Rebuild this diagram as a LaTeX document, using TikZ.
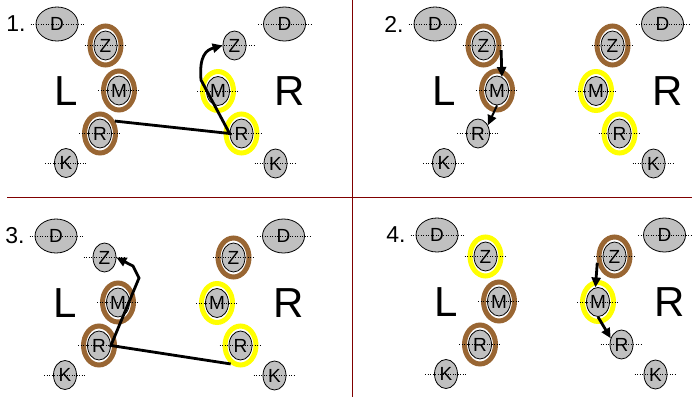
\documentclass[tikz,border=0pt]{standalone}
\usepackage{fontspec}
\setmainfont{Liberation Sans}
\usetikzlibrary{shapes.geometric,arrows.meta}
\definecolor{ballgray}{RGB}{192,192,192}
\definecolor{ringbrown}{RGB}{153,102,51}
\definecolor{ringyellow}{RGB}{255,255,0}
\definecolor{divred}{RGB}{128,0,0}

\begin{document}
\begin{tikzpicture}[x=1pt, y=-1pt,
    ball/.style = {draw, ellipse, fill=ballgray, line width=0.8pt, inner sep=0pt, minimum width=23pt, minimum height=29pt, font=\fontsize{19}{19}\selectfont},
    big/.style = {ball, minimum width=42pt, minimum height=34pt},
    ring/.style = {draw=#1, ellipse, line width=5pt, minimum width=31pt, minimum height=39pt},
    side/.style = {font=\fontsize{42}{42}\selectfont},
    num/.style = {font=\fontsize{23}{23}\selectfont},
    guide/.style = {dash pattern=on 1pt off 1.5pt, line width=0.7pt},
    move/.style = {line width=2.8pt, -{Triangle[length=10pt,width=9pt]}}]
    \useasboundingbox (0,0) rectangle (700,405);
    % panel dividers
    \draw[divred, line width=1pt] (7,197) -- (692,197);
    \draw[divred, line width=1pt] (352.5,0) -- (352.5,397);
    % the same balls in every panel
    \foreach \p/\dx/\dy in {1/0/0, 2/378/0, 3/-1/212, 4/380/211}{
        \begin{scope}[shift={(\dx,\dy)}]
            \node[num] (\p n) at (16,24) {\p.};
            \node[side] (\p L) at (66,91) {L};
            \node[side] (\p R) at (290,91) {R};
            \node[big] (\p lD) at (57,24) {D};
            \node[ball] (\p lZ) at (105.5,45.5) {Z};
            \node[ball] (\p lM) at (119,90.5) {M};
            \node[ball] (\p lR) at (100,133.5) {R};
            \node[ball] (\p lK) at (66,163) {K};
            \node[big] (\p rD) at (284.5,24) {D};
            \node[ball] (\p rZ) at (234.5,45.5) {Z};
            \node[ball] (\p rM) at (218,91) {M};
            \node[ball] (\p rR) at (241.5,133.5) {R};
            \node[ball] (\p rK) at (275.5,163.5) {K};
        \end{scope}
    }
    % rings
    \foreach \n in {1lZ,1lM,1lR,2lZ,2lM,2rZ,3lM,3lR,3rZ,4lM,4lR,4rZ}
        \node[ring=ringbrown] (\n o) at (\n) {};
    \foreach \n in {1rM,1rR,2rM,2rR,3rM,3rR,4lZ,4rM}
        \node[ring=ringyellow] (\n o) at (\n) {};
    % dotted lines through the balls
    \foreach \p in {1,2,3,4}{
        \foreach \s in {l,r}{
            \draw[guide] ([xshift=-5pt]\p\s D.west) -- ([xshift=5pt]\p\s D.east);
            \foreach \b in {Z,M,R,K}
                \draw[guide] ([xshift=-9pt]\p\s\b.west) -- ([xshift=9pt]\p\s\b.east);
        }
    }
    % moves
    \draw[move] (1lRo.40) -- (1rR.west) -- (201,80) .. controls (199,56) and (206,50) .. (1rZ.west);
    \draw[move] (2lZo.-15) -- (2lM.70);
    \draw[move, line width=2pt] (2lM.south) -- (2lR.40);
    \draw[move] (3rRo.242) -- (3lR.east) -- (139,278) -- (133,266) -- (3lZ.east);
    \draw[move] (4rZo.200) -- (4rM.100);
    \draw[move] (4rM.south) -- (4rR.150);
\end{tikzpicture}
\end{document}
